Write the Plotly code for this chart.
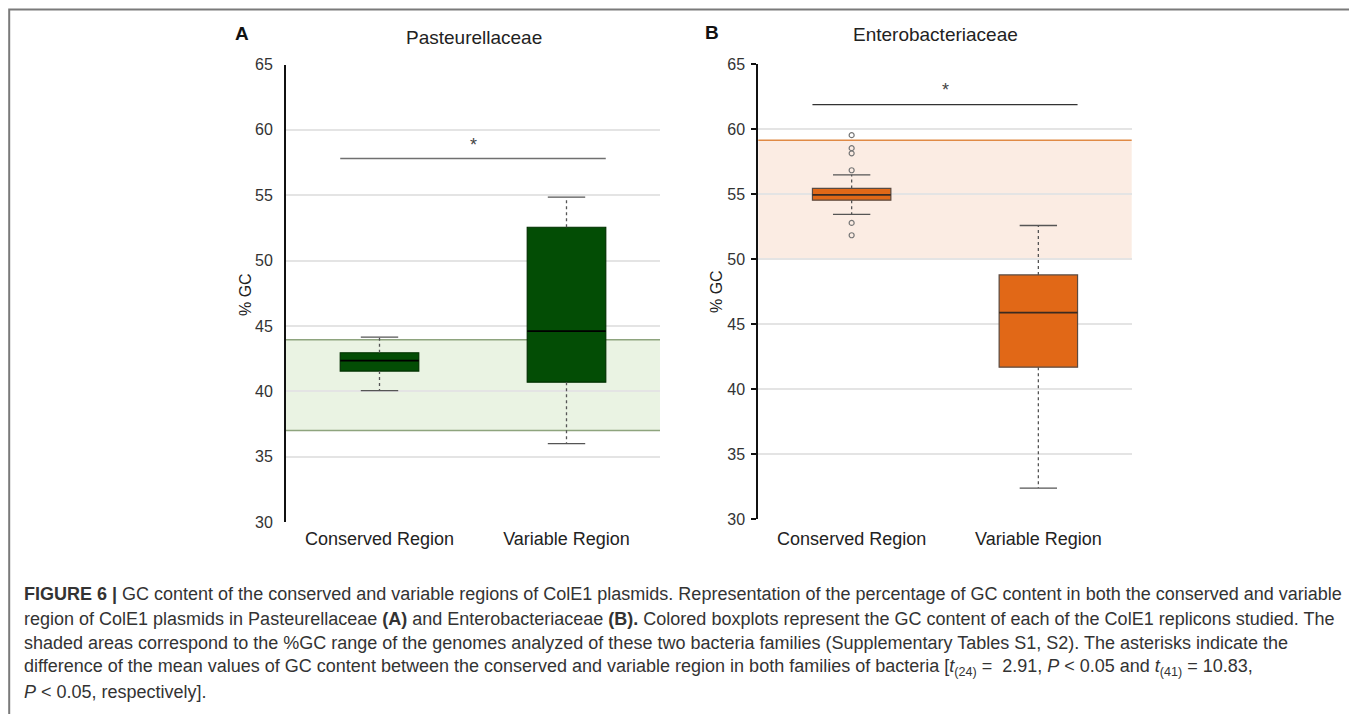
import plotly.graph_objects as go

# ---------------- data ----------------
categories = ["Conserved Region", "Variable Region"]
y_ticks = [30, 35, 40, 45, 50, 55, 60, 65]

# Panel A - Pasteurellaceae
a_lower = [40.05, 36.0]
a_q1 = [41.55, 40.7]
a_median = [42.35, 44.6]
a_q3 = [42.95, 52.55]
a_upper = [44.15, 54.85]
a_band = [37.0, 43.95]      # %GC range of genomes
a_sig_y = 57.8

# Panel B - Enterobacteriaceae
b_lower = [53.45, 32.4]
b_q1 = [54.55, 41.7]
b_median = [54.95, 45.9]
b_q3 = [55.45, 48.8]
b_upper = [56.5, 52.6]
b_outliers = [59.55, 58.55, 58.15, 56.85, 52.8, 51.85]
b_band = [50.0, 59.15]
b_sig_y = 61.9

caption_lines = [
    "<b>FIGURE 6 |</b> GC content of the conserved and variable regions of ColE1 plasmids. Representation of the percentage of GC content in both the conserved and variable",
    "region of ColE1 plasmids in Pasteurellaceae <b>(A)</b> and Enterobacteriaceae <b>(B).</b> Colored boxplots represent the GC content of each of the ColE1 replicons studied. The",
    "shaded areas correspond to the %GC range of the genomes analyzed of these two bacteria families (Supplementary Tables S1, S2). The asterisks indicate the",
    "difference of the mean values of GC content between the conserved and variable region in both families of bacteria [<i>t</i><sub>(24)</sub> =  2.91, <i>P</i> &lt; 0.05 and <i>t</i><sub>(41)</sub> = 10.83,",
    "<i>P</i> &lt; 0.05, respectively].",
]

# ---------------- layout helpers ----------------
W, H = 1357, 714
OFF = 8  # page body margin in the browser
def px(x):
    return (x - OFF) / W
def py(y):
    return 1 - (y - OFF) / H

BW = 0.21   # half box width (category units)
CW = 0.10   # half cap width
FONT = "Liberation Sans, Arial, sans-serif"

fig = go.Figure()

def add_panel(xa, ya, lower, q1, med, q3, upper, fill, edge, med_col, whisk_col):
    xs = list(range(len(categories)))
    wx, wy, cx, cy, mx, my = [], [], [], [], [], []
    for i in xs:
        wx += [i, i, None, i, i, None]
        wy += [q3[i], upper[i], None, q1[i], lower[i], None]
        cx += [i - CW, i + CW, None, i - CW, i + CW, None]
        cy += [upper[i], upper[i], None, lower[i], lower[i], None]
        mx += [i - BW, i + BW, None]
        my += [med[i], med[i], None]
    fig.add_trace(go.Scatter(x=wx, y=wy, mode="lines", xaxis=xa, yaxis=ya,
                             line=dict(color=whisk_col, width=1.3, dash="dot"),
                             hoverinfo="skip", showlegend=False))
    fig.add_trace(go.Bar(x=xs, y=[q3[i] - q1[i] for i in xs], base=q1, width=2 * BW,
                         xaxis=xa, yaxis=ya, marker=dict(color=fill, line=dict(color=edge, width=1.2)),
                         showlegend=False))
    fig.add_trace(go.Scatter(x=mx, y=my, mode="lines", xaxis=xa, yaxis=ya,
                             line=dict(color=med_col, width=1.7), hoverinfo="skip", showlegend=False))
    fig.add_trace(go.Scatter(x=cx, y=cy, mode="lines", xaxis=xa, yaxis=ya,
                             line=dict(color=whisk_col, width=1.3), hoverinfo="skip", showlegend=False))

add_panel("x", "y", a_lower, a_q1, a_median, a_q3, a_upper,
          "#034d05", "#013001", "#000000", "#555555")
add_panel("x2", "y2", b_lower, b_q1, b_median, b_q3, b_upper,
          "#e16817", "#5a4a40", "#3a2a20", "#555555")

fig.add_trace(go.Scatter(x=[0] * len(b_outliers), y=b_outliers, mode="markers", xaxis="x2", yaxis="y2",
                         marker=dict(symbol="circle-open", size=5, color="#777777", line=dict(width=1.2)),
                         showlegend=False))

shapes = []
# shaded genome ranges
shapes.append(dict(type="rect", xref="x domain", yref="y", x0=0, x1=1, y0=a_band[0], y1=a_band[1],
                   fillcolor="#eaf3e3", line=dict(width=0), layer="below"))
for v in a_band:
    shapes.append(dict(type="line", xref="x domain", yref="y", x0=0, x1=1, y0=v, y1=v,
                       line=dict(color="#8ea47e", width=1.5), layer="below"))
shapes.append(dict(type="rect", xref="x2 domain", yref="y2", x0=0, x1=1, y0=b_band[0], y1=b_band[1],
                   fillcolor="#fbece3", line=dict(width=0), layer="below"))
for v in b_band:
    shapes.append(dict(type="line", xref="x2 domain", yref="y2", x0=0, x1=1, y0=v, y1=v,
                       line=dict(color="#e08a45", width=1.5), layer="below"))
# significance lines
shapes.append(dict(type="line", xref="x", yref="y", x0=-BW, x1=1 + BW, y0=a_sig_y, y1=a_sig_y,
                   line=dict(color="#707070", width=1.5)))
shapes.append(dict(type="line", xref="x2", yref="y2", x0=-BW, x1=1 + BW, y0=b_sig_y, y1=b_sig_y,
                   line=dict(color="#333333", width=1.3)))
# figure border
shapes.append(dict(type="rect", xref="paper", yref="paper", x0=px(9.2), x1=px(1354.5), y0=-0.2, y1=py(9.6),
                   line=dict(color="#7a7a7a", width=2), fillcolor="rgba(0,0,0,0)"))

def ann(text, x, y, size, color="#222222", angle=0, **kw):
    return dict(text=text, x=x, y=y, xref="paper", yref="paper", showarrow=False, textangle=angle,
                xanchor=kw.get("xanchor", "center"), yanchor="middle",
                font=dict(size=size, color=color, family=FONT))

annotations = [
    dict(text="*", x=0.5, y=a_sig_y + 1.05, xref="x", yref="y", showarrow=False,
         xanchor="center", yanchor="middle", font=dict(size=18, color="#444444", family=FONT)),
    dict(text="*", x=0.5, y=b_sig_y + 1.15, xref="x2", yref="y2", showarrow=False,
         xanchor="center", yanchor="middle", font=dict(size=18, color="#444444", family=FONT)),
    ann("Pasteurellaceae", px(474), py(38), 19),
    ann("Enterobacteriaceae", px(935), py(35), 19),
    ann("<b>A</b>", px(242), py(34), 19, "#111111"),
    ann("<b>B</b>", px(712), py(33), 19, "#111111"),
    ann("% GC", px(245), py(295), 16, angle=-90),
    ann("% GC", px(717), py(292), 16, angle=-90),
]
cap_y0, cap_dy = 594, 24.6
for k, line in enumerate(caption_lines):
    annotations.append(ann(line, px(22), py(cap_y0 + k * cap_dy), 18.0, "#333333", xanchor="left"))

xcommon = dict(range=[-0.5, 1.5], tickvals=[0, 1], ticktext=categories, showgrid=False, zeroline=False,
               showline=False, ticks="", tickfont=dict(size=18, color="#222222", family=FONT),
               fixedrange=True)
ycommon = dict(range=[30, 65], tickvals=y_ticks, showgrid=True, gridcolor="#e4e4e4", gridwidth=1.5,
               zeroline=False, showline=True, linecolor="#111111", linewidth=2,
               tickfont=dict(size=16, color="#333333", family=FONT), fixedrange=True)

fig.update_layout(
    width=W, height=H, margin=dict(l=0, r=0, t=0, b=0, autoexpand=False),
    paper_bgcolor="white", plot_bgcolor="white", showlegend=False, barmode="overlay",
    xaxis=dict(domain=[px(286), px(660)], anchor="y", ticklabelstandoff=4, **xcommon),
    yaxis=dict(domain=[py(522), py(64.5)], anchor="x", ticks="", ticklabelstandoff=8, **ycommon),
    xaxis2=dict(domain=[px(758.3), px(1131.7)], anchor="y2", ticklabelstandoff=7, **xcommon),
    yaxis2=dict(domain=[py(519.3), py(64.3)], anchor="x2", ticks="outside", ticklen=5, tickcolor="#111111",
                tickwidth=1.5, ticklabelstandoff=3, **ycommon),
    shapes=shapes, annotations=annotations,
)

fig.write_html("out.html")
